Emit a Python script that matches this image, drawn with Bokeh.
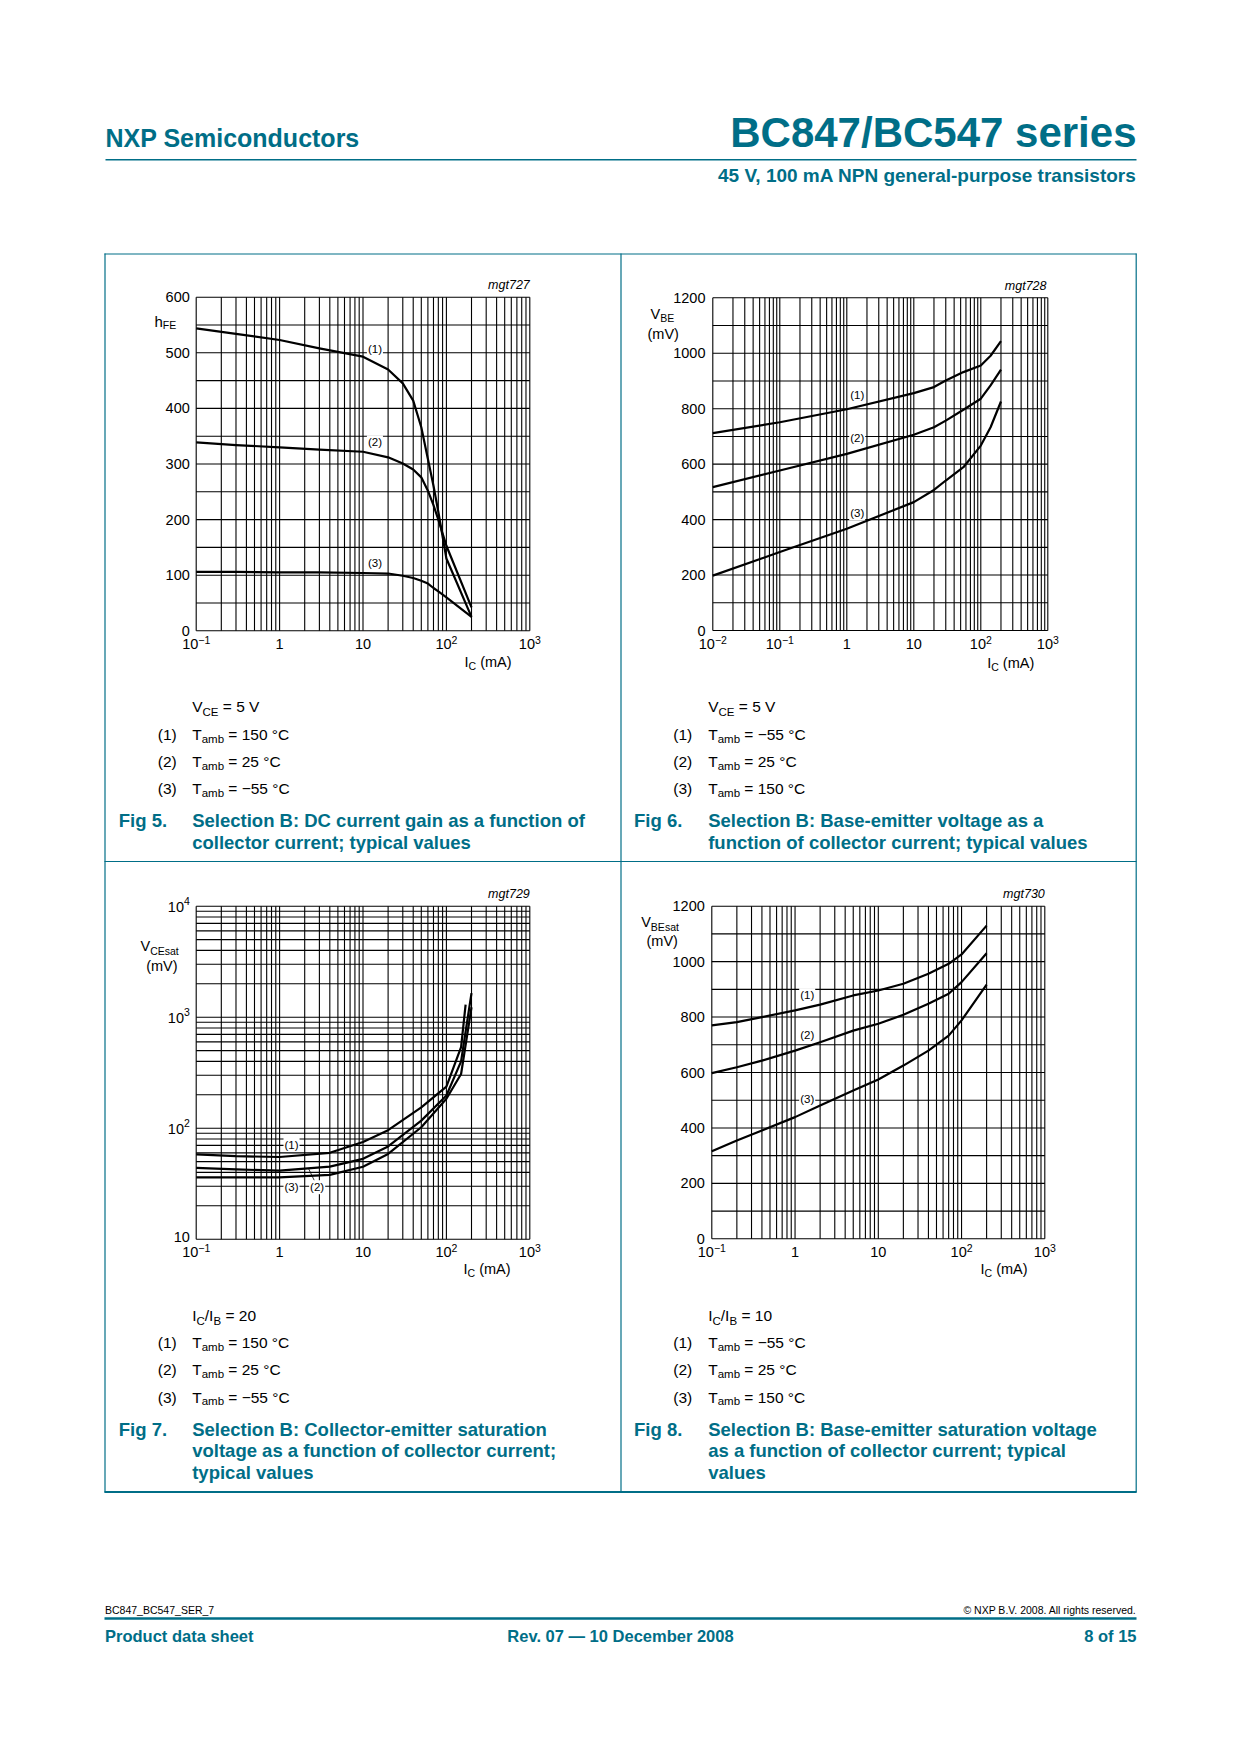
import numpy as np
from bokeh.plotting import figure
from bokeh.models import Range1d, LogScale, LinearScale
from bokeh.core.properties import value
from bokeh.embed import file_html
from bokeh.resources import INLINE

TEAL = "#006e87"
FONT = "Liberation Sans"
NB = "\u00a0"

# ---------------- data ----------------
# Fig 5: DC current gain hFE vs IC (mA)
f5_ic = [0.1, 0.3, 1, 3, 10, 20, 30, 40, 50, 60, 70, 80, 100, 200]
f5_hfe_150 = [544, 534, 523, 508, 493, 470, 445, 414, 366, 309, 261, 214, 130, 25]
f5_hfe_25 = [339, 334, 330, 326, 322, 312, 301, 290, 276, 252, 226, 200, 153, 42]
f5_hfe_m55 = [106, 106, 105, 105, 104, 103, 99, 95, 90, 85, 77, 71, 60, 25]

# Fig 6: VBE (mV) vs IC (mA)
f6_ic = [0.01, 0.1, 1, 10, 20, 30, 55, 100, 140, 200]
f6_vbe_m55 = [712, 751, 798, 856, 878, 902, 932, 956, 991, 1044]
f6_vbe_25 = [517, 577, 637, 706, 733, 757, 796, 836, 884, 941]
f6_vbe_150 = [198, 283, 367, 463, 507, 541, 589, 667, 733, 826]

# Fig 7: VCEsat (mV) vs IC (mA)
f7_ic_150 = [0.1, 0.3, 1, 4, 10, 20, 50, 100, 150, 170]
f7_vce_150 = [58, 56, 55, 60, 75, 96, 154, 237, 537, 1300]
f7_ic = [0.1, 0.3, 1, 4, 10, 20, 50, 100, 150, 200]
f7_vce_25 = [44, 42.5, 41.5, 45, 53, 68.5, 117, 197, 400, 1650]
f7_vce_m55 = [36, 36, 36, 38, 45, 58.6, 102, 184, 308, 1230]

# Fig 8: VBEsat (mV) vs IC (mA)
f8_ic = [0.1, 0.2, 0.4, 1, 2, 5, 10, 20, 40, 70, 100, 200]
f8_vbe_m55 = [770, 782, 800, 824, 845, 878, 896, 920, 956, 992, 1026, 1130]
f8_vbe_25 = [598, 619, 643, 679, 709, 751, 776, 808, 848, 884, 926, 1030]
f8_vbe_150 = [316, 355, 391, 439, 481, 535, 575, 625, 679, 733, 788, 917]

# tick labels
lin600_ticks = [0, 100, 200, 300, 400, 500, 600]
lin1200_ticks = [0, 200, 400, 600, 800, 1000, 1200]
log_y_ticks = [(10, "10", ""), (100, "10", "2"), (1000, "10", "3"), (10000, "10", "4")]
x_ticks_3dec = [(0.1, "10", "\u22121"), (1, "1", ""), (10, "10", ""), (100, "10", "2"), (1000, "10", "3")]
x_ticks_5dec = [(0.01, "10", "\u22122"), (0.1, "10", "\u22121"), (1, "1", ""), (10, "10", ""),
                (100, "10", "2"), (1000, "10", "3")]

# ---------------- page figure (page pixel coordinates) ----------------
PW, PH = 1224, 1700
p = figure(width=PW, height=PH, x_range=Range1d(0, PW), y_range=Range1d(PH, 0),
           output_backend="svg", toolbar_location=None, min_border=0,
           x_axis_location=None, y_axis_location=None, outline_line_color=None)
p.grid.visible = False
p.background_fill_color = "white"
p.border_fill_color = "white"

WID = {' ': 278, NB: 278, '(': 333, ')': 333, '/': 278, '=': 584, '\u00b0': 400, '\u2212': 584,
       '.': 278, 'A': 667, 'B': 667, 'C': 722, 'E': 667, 'F': 611, 'I': 278, 'T': 611, 'V': 667,
       'a': 556, 'b': 556, 'e': 556, 'h': 556, 'm': 833, 's': 500, 't': 278}
MID = 0.3465  # baseline -> middle shift (fraction of font size)


def tw(s, size):
    return sum(WID.get(c, 556) for c in s) * size / 1000.0


def txt(x, y, s, size, color="black", style="normal", align="left", baseline="alphabetic",
        xr="default", yr="default", bg=None, yo=0):
    kw = {}
    if bg is not None:
        kw = dict(background_fill_color=bg, padding=1)
    if baseline == "alphabetic":
        # y given as a baseline in page coordinates
        y = y - MID * size
        baseline = "middle"
    p.text(x=[x], y=[y], text=[s], text_font=value(FONT), text_font_size=value(f"{size}px"),
           text_font_style=style, text_color=color, text_align=align, text_baseline=baseline,
           x_range_name=xr, y_range_name=yr, y_offset=yo, **kw)


def rich(x, y, parts, align="left", color="black"):
    total = sum(tw(s, sz) for s, sz, dy in parts)
    cx = x - total if align == "right" else (x - total / 2 if align == "center" else x)
    for s, sz, dy in parts:
        txt(cx, y + dy, s, sz, color)
        cx += tw(s, sz)


xr_map, yr_map, xs_map, ys_map = {}, {}, {}, {}


def chart_ranges(name, xlo, xhi, ylo, yhi, ylog, L, R, T, B):
    a = (np.log10(xhi) - np.log10(xlo)) / (R - L)
    xr_map[name + "x"] = Range1d(10 ** (np.log10(xlo) + (0 - L) * a),
                                 10 ** (np.log10(xlo) + (PW - L) * a))
    xs_map[name + "x"] = LogScale()
    if ylog:
        b = (np.log10(yhi) - np.log10(ylo)) / (T - B)
        yr_map[name + "y"] = Range1d(10 ** (np.log10(ylo) + (PH - B) * b),
                                     10 ** (np.log10(ylo) + (0 - B) * b))
        ys_map[name + "y"] = LogScale()
    else:
        b = (yhi - ylo) / (T - B)
        yr_map[name + "y"] = Range1d(ylo + (PH - B) * b, ylo + (0 - B) * b)
        ys_map[name + "y"] = LinearScale()


charts = {
    "c1": dict(xlo=0.1, xhi=1000, ylo=0, yhi=600, ylog=False, L=195.7, R=529.3, T=296.7, B=630.3),
    "c2": dict(xlo=0.01, xhi=1000, ylo=0, yhi=1200, ylog=False, L=712.3, R=1047.3, T=297.3, B=630.0),
    "c3": dict(xlo=0.1, xhi=1000, ylo=10, yhi=10000, ylog=True, L=195.7, R=529.3, T=905.7, B=1238.7),
    "c4": dict(xlo=0.1, xhi=1000, ylo=0, yhi=1200, ylog=False, L=711.3, R=1044.3, T=905.7, B=1238.3),
}
for n, c in charts.items():
    chart_ranges(n, **c)
p.extra_x_ranges = xr_map
p.extra_y_ranges = yr_map
p.extra_x_scales = xs_map
p.extra_y_scales = ys_map


def log_lines(lo, hi):
    out = []
    k0, k1 = int(round(np.log10(lo))), int(round(np.log10(hi)))
    for k in range(k0, k1):
        for m in range(1, 10):
            out.append(m * 10.0 ** k)
    out.append(hi)
    return out


def draw_grid(name, xlo, xhi, ylo, yhi, ylog, ystep):
    vx = log_lines(xlo, xhi)
    p.segment(x0=vx, y0=[ylo] * len(vx), x1=vx, y1=[yhi] * len(vx), line_color="black",
              line_width=1.1, x_range_name=name + "x", y_range_name=name + "y")
    hy = log_lines(ylo, yhi) if ylog else list(np.arange(ylo, yhi + ystep / 2, ystep))
    p.segment(x0=[xlo] * len(hy), y0=hy, x1=[xhi] * len(hy), y1=hy, line_color="black",
              line_width=1.1, x_range_name=name + "x", y_range_name=name + "y")


def curve(name, xs, ys):
    p.line(xs, ys, line_color="black", line_width=2.2, line_join="round",
           x_range_name=name + "x", y_range_name=name + "y")


def xticks(name, ticks, ybase):
    for v, main, sup in ticks:
        wm, ws = tw(main, 14.5), tw(sup, 10.5)
        tot = wm + ws
        p.text(x=[v], y=[ybase - MID * 14.5], text=[main], text_font=value(FONT),
               text_font_size=value("14.5px"), text_align="left", text_baseline="middle",
               x_offset=-tot / 2, x_range_name=name + "x")
        if sup:
            p.text(x=[v], y=[ybase - 5.5 - MID * 10.5], text=[sup], text_font=value(FONT),
                   text_font_size=value("10.5px"), text_align="left", text_baseline="middle",
                   x_offset=-tot / 2 + wm, x_range_name=name + "x")


def yticks_lin(name, ticks, xright):
    for v in ticks:
        txt(xright, v, str(v), 14.5, align="right", baseline="middle", yr=name + "y")


# ---------------- draw charts ----------------
draw_grid("c1", 0.1, 1000, 0, 600, False, 50)
draw_grid("c2", 0.01, 1000, 0, 1200, False, 100)
draw_grid("c3", 0.1, 1000, 10, 10000, True, None)
draw_grid("c4", 0.1, 1000, 0, 1200, False, 100)

curve("c1", f5_ic, f5_hfe_150)
curve("c1", f5_ic, f5_hfe_25)
curve("c1", f5_ic, f5_hfe_m55)
curve("c2", f6_ic, f6_vbe_m55)
curve("c2", f6_ic, f6_vbe_25)
curve("c2", f6_ic, f6_vbe_150)
curve("c3", f7_ic_150, f7_vce_150)
curve("c3", f7_ic, f7_vce_25)
curve("c3", f7_ic, f7_vce_m55)
curve("c4", f8_ic, f8_vbe_m55)
curve("c4", f8_ic, f8_vbe_25)
curve("c4", f8_ic, f8_vbe_150)

# curve labels (chart coordinates)
lab = [("c1", 13.9, 506, "(1)"), ("c1", 13.9, 339, "(2)"), ("c1", 13.9, 122, "(3)"),
       ("c2", 1.43, 848, "(1)"), ("c2", 1.43, 693, "(2)"), ("c2", 1.43, 423, "(3)"),
       ("c3", 1.39, 70.8, "(1)"), ("c3", 1.39, 29.4, "(3)"), ("c3", 2.82, 29.4, "(2)"),
       ("c4", 1.40, 879, "(1)"), ("c4", 1.40, 735, "(2)"), ("c4", 1.40, 504, "(3)")]
p.line([2.62, 2.22], [33.5, 43.4], line_color="black", line_width=0.8,
       x_range_name="c3x", y_range_name="c3y")
for n, x, y, s in lab:
    txt(x, y, s, 11.5, align="center", baseline="middle", xr=n + "x", yr=n + "y", bg="white")

# tick labels
yticks_lin("c1", lin600_ticks, 189.3)
yticks_lin("c2", lin1200_ticks, 705.0)
yticks_lin("c4", lin1200_ticks, 704.3)
for v, main, sup in log_y_ticks:
    ws = tw(sup, 10.5)
    txt(189.3 - ws, v, main, 14.5, align="right", baseline="middle", yr="c3y",
        yo=(-2 if not sup else 0.5))
    if sup:
        txt(189.3 - ws, v, sup, 10.5, align="left", baseline="middle", yr="c3y", yo=-5)
xticks("c1", x_ticks_3dec, 648.3)
xticks("c2", x_ticks_5dec, 648.3)
xticks("c3", x_ticks_3dec, 1256.7)
xticks("c4", x_ticks_3dec, 1256.7)

# axis titles
for x0, yb in [(464, 667), (986.7, 667.5), (463, 1274), (980, 1274)]:
    rich(x0, yb, [("I", 14.5, 0), ("C", 10.5, 2.5), (NB + "(mA)", 14.5, 0)])
rich(154, 326, [("h", 15, 0), ("FE", 10.5, 2.5)])
rich(650, 318.3, [("V", 14.5, 0), ("BE", 10.5, 3)])
txt(647, 339, "(mV)", 14.5)
rich(140, 950.7, [("V", 14.5, 0), ("CEsat", 10.5, 3)])
txt(145.7, 970.5, "(mV)", 14.5)
rich(640.7, 926.7, [("V", 14.5, 0), ("BEsat", 10.5, 3)])
txt(646, 946, "(mV)", 14.5)

for x0, yb, s in [(529.3, 289.3, "mgt727"), (1046, 290, "mgt728"),
                  (529.3, 898.3, "mgt729"), (1044.3, 898.3, "mgt730")]:
    txt(x0, yb, s, 12.5, style="italic", align="right")


# ---------------- legends & captions ----------------
def legend(xnum, xtxt, y0, head, temps):
    rich(xtxt, y0, head)
    for i, t in enumerate(temps):
        yb = y0 + 27.3 + i * 27.2
        txt(xnum, yb, f"({i + 1})", 15.5)
        rich(xtxt, yb, [("T", 15.5, 0), ("amb", 11.5, 3), (f"{NB}={NB}{t}{NB}\u00b0C", 15.5, 0)])


vce_head = [("V", 15.5, 0), ("CE", 11.5, 4), (f"{NB}={NB}5{NB}V", 15.5, 0)]
legend(157.3, 191.7, 711.7, vce_head, ["150", "25", "\u221255"])
legend(672.8, 707.7, 711.7, vce_head, ["\u221255", "25", "150"])
legend(157.3, 191.7, 1320.2, [("I", 15.5, 0), ("C", 11.5, 4), ("/I", 15.5, 0), ("B", 11.5, 4),
                              (f"{NB}={NB}20", 15.5, 0)], ["150", "25", "\u221255"])
legend(672.8, 707.7, 1320.2, [("I", 15.5, 0), ("C", 11.5, 4), ("/I", 15.5, 0), ("B", 11.5, 4),
                              (f"{NB}={NB}10", 15.5, 0)], ["\u221255", "25", "150"])

caps = [
    (118.3, 191.7, 826.7, "Fig 5.", ["Selection B: DC current gain as a function of",
                                     "collector current; typical values"]),
    (633.5, 707.7, 826.7, "Fig 6.", ["Selection B: Base-emitter voltage as a",
                                     "function of collector current; typical values"]),
    (118.3, 191.7, 1435.2, "Fig 7.", ["Selection B: Collector-emitter saturation",
                                      "voltage as a function of collector current;",
                                      "typical values"]),
    (633.5, 707.7, 1435.2, "Fig 8.", ["Selection B: Base-emitter saturation voltage",
                                      "as a function of collector current; typical",
                                      "values"]),
]
for xf, xt, yb, fig, lines in caps:
    txt(xf, yb, fig, 18.5, color=TEAL, style="bold")
    for i, s in enumerate(lines):
        txt(xt, yb + i * 21.6, s, 18.5, color=TEAL, style="bold")

# ---------------- box frame ----------------
p.segment(x0=[104, 104.5, 1135.7, 620.5, 104], y0=[253.5, 253, 253, 253, 861],
          x1=[1136, 104.5, 1135.7, 620.5, 1136], y1=[253.5, 1492, 1492, 1492, 861],
          line_color=TEAL, line_width=1.2)
p.segment(x0=[104], y0=[1491.5], x1=[1136], y1=[1491.5], line_color=TEAL, line_width=2.2)

# ---------------- header ----------------
txt(105, 146, "NXP Semiconductors", 25, color=TEAL, style="bold")
txt(1136, 146.5, "BC847/BC547 series", 42, color=TEAL, style="bold", align="right")
p.segment(x0=[105], y0=[159.3], x1=[1136], y1=[159.3], line_color=TEAL, line_width=1.5)
txt(1136, 182, "45 V, 100 mA NPN general-purpose transistors", 19, color=TEAL, style="bold",
    align="right")

# ---------------- footer ----------------
txt(104.5, 1613, "BC847_BC547_SER_7", 10.5)
txt(1136, 1613, "\u00a9 NXP B.V. 2008. All rights reserved.", 10.5, align="right")
p.segment(x0=[104], y0=[1618], x1=[1136], y1=[1618], line_color=TEAL, line_width=2.5)
txt(104.5, 1641, "Product data sheet", 16.5, color=TEAL, style="bold")
txt(620, 1641, "Rev. 07 \u2014 10 December 2008", 16.5, color=TEAL, style="bold", align="center")
txt(1136, 1641, "8 of 15", 16.5, color=TEAL, style="bold", align="right")

open("out.html", "w").write(file_html(p, INLINE))
